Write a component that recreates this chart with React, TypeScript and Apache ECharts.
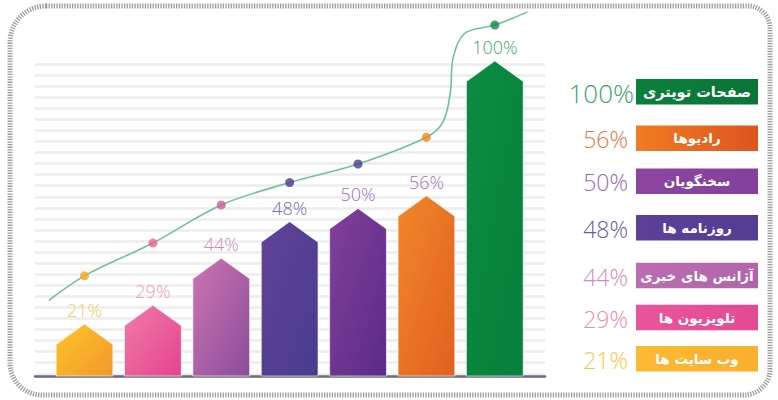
import React, { useEffect, useRef } from "react";
import * as echarts from "echarts";

// Categories, left to right (bars) — legend lists them top to bottom in reverse
const categories = ["وب سایت ها", "تلویزیون ها", "آژانس های خبری", "روزنامه ها", "سخنگویان", "رادیوها", "صفحات تویتری"];
const percentValues = [21, 29, 44, 48, 50, 56, 100];
// Drawn bar heights (the infographic is not to scale)
const barHeights = [16.5, 22.5, 37.4, 49, 53.2, 57.2, 100];
// Heights of the dots of the trend curve over each bar
const dotHeights = [31.8, 42.2, 54.3, 61.4, 67.3, 75.8, 111.4];
// Extra points of the curve: [category position, height]
const curveLead = [[-0.57, 23.2]];
const curveBend = [[5.24, 80.5], [5.35, 90], [5.39, 101], [5.56, 108.8]];
const curveTail = [[6.48, 115.6]];

const barGradients = [
  ["#fdc52b", "#f3982c"],
  ["#f07ca8", "#e4448d"],
  ["#cd74b0", "#8b4d9b"],
  ["#614399", "#483c8d"],
  ["#82409a", "#5a2b86"],
  ["#f1872a", "#e1601f"],
  ["#0b8c41", "#07803b"],
];
const labelColors = ["#f6c95a", "#f29ab9", "#d58bc2", "#7d68b2", "#a06fba", "#a172bd", "#46a56e"];
const dotColors = ["#f6a623", "#ec5f98", "#d0569f", "#4b3a8f", "#4b3a8f", "#f08a24", "#0f8a45"];
const legendPctColors = ["#fbc93e", "#f08ab0", "#d08ec0", "#6b5aa5", "#9c68b5", "#ec7744", "#3ca56b"];
const legendBoxColors = [
  ["#fcb933", "#f9b02f"],
  ["#e9559c", "#e34a93"],
  ["#bc6db0", "#b065aa"],
  ["#5c4097", "#553c92"],
  ["#8c46a2", "#84409c"],
  ["#ef7c22", "#dd5520"],
  ["#0c7f3c", "#0a7437"],
];
// legend row centres (px), bottom (21%) to top (100%)
const legendRowY = [358.7, 317.5, 275.5, 227.8, 181.2, 138.2, 91.7];

export default function App() {
  const ref = useRef<HTMLDivElement>(null);
  useEffect(() => {
    if (!ref.current) return;
    const chart = echarts.init(ref.current, null, { renderer: "svg" });

    const curveData = [
      ...curveLead,
      ...dotHeights.slice(0, 6).map((h, i) => [i, h]),
      ...curveBend,
      [6, dotHeights[6]],
      ...curveTail,
    ];

    const legendGraphics: any[] = [];
    categories.forEach((name, i) => {
      const cy = legendRowY[i];
      legendGraphics.push({
        type: "rect",
        shape: { x: 636, y: cy - 12.8, width: 122, height: 25.6 },
        style: {
          fill: new echarts.graphic.LinearGradient(0, 0, 1, 0, [
            { offset: 0, color: legendBoxColors[i][0] },
            { offset: 1, color: legendBoxColors[i][1] },
          ]),
        },
      });
      legendGraphics.push({
        type: "text",
        x: 697,
        y: cy,
        style: {
          text: name,
          fill: "#ffffff",
          fontFamily: "DejaVu Sans",
          fontWeight: "bold",
          fontSize: i === 6 ? 14.5 : 13.5,
          align: "center",
          verticalAlign: "middle",
        },
      });
      legendGraphics.push({
        type: "text",
        x: i === 6 ? 634 : 628,
        y: cy + 1,
        style: {
          text: percentValues[i] + "%",
          fill: legendPctColors[i],
          fontFamily: "Open Sans",
          fontWeight: 300,
          fontSize: i === 6 ? 26 : 23,
          align: "right",
          verticalAlign: "middle",
        },
      });
    });

    chart.setOption({
      animation: false,
      backgroundColor: "#ffffff",
      grid: [
        { left: 50.3, right: 249, top: 61, bottom: 24 },
        { left: 35, right: 233, top: 64, bottom: 24 },
      ],
      xAxis: [
        {
          type: "category",
          gridIndex: 0,
          data: categories,
          show: false,
          boundaryGap: true,
        },
        { type: "value", gridIndex: 0, min: -0.5, max: 6.5, show: false },
        {
          type: "value",
          gridIndex: 1,
          min: 0,
          max: 1,
          axisLine: { show: true, onZero: false, lineStyle: { color: "#6c6c7c", width: 2.5 } },
          axisTick: { show: false },
          axisLabel: { show: false },
          splitLine: { show: false },
        },
      ],
      yAxis: [
        { type: "value", gridIndex: 0, min: 0, max: 100, show: false },
        {
          type: "value",
          gridIndex: 1,
          inverse: true,
          min: 0,
          max: 28.2,
          interval: 1,
          axisLine: { show: false },
          axisTick: { show: false },
          axisLabel: { show: false },
          splitLine: {
            show: true,
            lineStyle: { color: "#ededed", width: 2.5 },
          },
        },
      ],
      graphic: [
        {
          type: "rect",
          shape: { x: 10, y: 6, width: 760, height: 389, r: [36, 22, 26, 32] },
          style: { fill: "none", stroke: "#9c9c9c", lineWidth: 5, lineDash: [1.3, 1.3] },
          z: 0,
        },
        ...legendGraphics,
      ],
      series: [
        {
          type: "custom",
          xAxisIndex: 0,
          yAxisIndex: 0,
          z: 3,
          clip: false,
          data: barHeights.map((h, i) => [i, h, percentValues[i]]),
          renderItem: (params: any, api: any) => {
            const idx = api.value(0);
            const h = api.value(1);
            const pct = api.value(2);
            const peak = api.coord([idx, h]);
            const base = api.coord([idx, 0]);
            const bw = api.size([1, 0])[0] * 0.83;
            const cx = peak[0];
            const shoulder = 20.5;
            const g = barGradients[params.dataIndex];
            return {
              type: "group",
              children: [
                {
                  type: "polygon",
                  shape: {
                    points: [
                      [cx - bw / 2, base[1]],
                      [cx - bw / 2, peak[1] + shoulder],
                      [cx, peak[1]],
                      [cx + bw / 2, peak[1] + shoulder],
                      [cx + bw / 2, base[1]],
                    ],
                  },
                  style: {
                    fill: new echarts.graphic.LinearGradient(0, 0, 1, 1, [
                      { offset: 0, color: g[0] },
                      { offset: 1, color: g[1] },
                    ]),
                    stroke: "rgba(255,255,255,0.6)",
                    lineWidth: 1,
                  },
                },
                {
                  type: "text",
                  x: cx,
                  y: peak[1] - 14,
                  style: {
                    text: pct + "%",
                    fill: labelColors[params.dataIndex],
                    fontFamily: "Open Sans",
                    fontWeight: 300,
                    fontSize: 18,
                    align: "center",
                    verticalAlign: "middle",
                  },
                },
              ],
            };
          },
        },
        {
          type: "line",
          xAxisIndex: 1,
          yAxisIndex: 0,
          z: 4,
          clip: false,
          smooth: 0.35,
          symbol: "none",
          data: curveData,
          lineStyle: { color: "#6fc296", width: 1.6 },
        },
        {
          type: "scatter",
          xAxisIndex: 0,
          yAxisIndex: 0,
          z: 5,
          clip: false,
          symbolSize: 9,
          data: dotHeights.map((h, i) => ({
            value: [i, h],
            itemStyle: { color: dotColors[i] },
          })),
        },
      ],
    });
    return () => chart.dispose();
  }, []);
  return (
    <div
      ref={ref}
      style={{ position: "fixed", left: 0, top: 0, width: 778, height: 400 }}
    />
  );
}
